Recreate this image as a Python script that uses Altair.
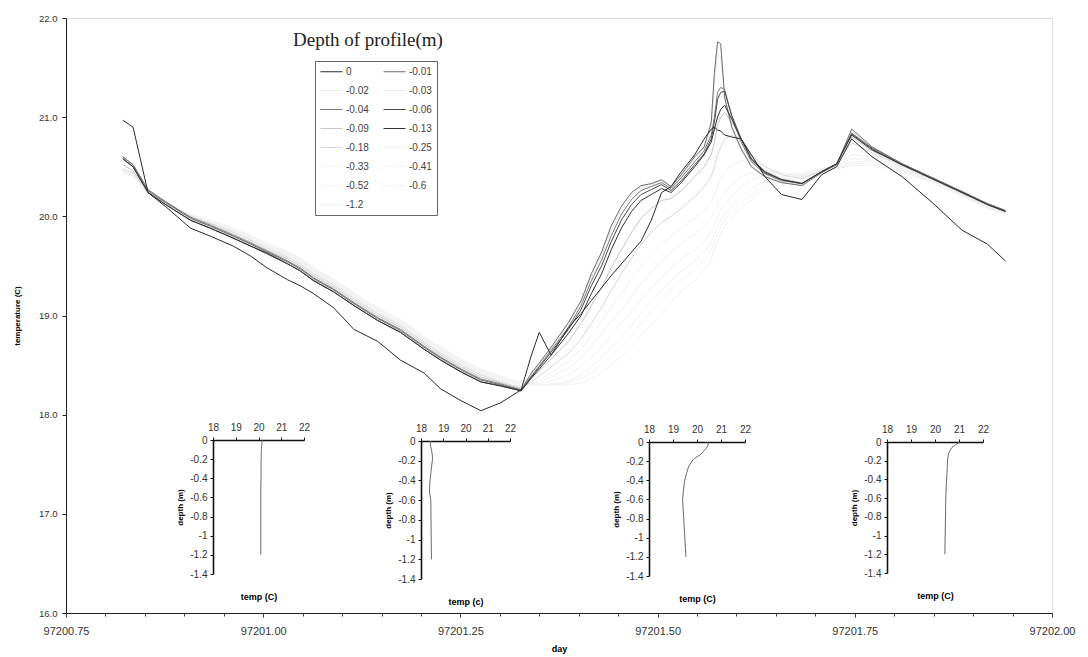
import altair as alt
import pandas as pd

# ---------------------------------------------------------------------------
# Time axis (decimal day) shared by all depth series
# ---------------------------------------------------------------------------
days = [97200.822, 97200.835, 97200.854, 97200.876, 97200.908, 97200.933, 97200.962,
        97200.984, 97201.005, 97201.031, 97201.047, 97201.064, 97201.089, 97201.115,
        97201.145, 97201.174, 97201.204, 97201.225, 97201.251, 97201.276, 97201.301,
        97201.327, 97201.340, 97201.350, 97201.365, 97201.387, 97201.403, 97201.416,
        97201.429, 97201.441, 97201.454, 97201.467, 97201.479, 97201.492, 97201.505,
        97201.517, 97201.530, 97201.547, 97201.559, 97201.568, 97201.572, 97201.576,
        97201.580, 97201.585, 97201.594, 97201.606, 97201.619, 97201.636, 97201.657,
        97201.683, 97201.708, 97201.727, 97201.746, 97201.772, 97201.810, 97201.848,
        97201.886, 97201.918, 97201.941]

# Temperature (C) at each depth of the profile
t_0 = [20.97, 20.90, 20.24, 20.10, 19.88, 19.80, 19.70, 19.60, 19.48, 19.36, 19.30,
       19.22, 19.08, 18.86, 18.74, 18.55, 18.42, 18.26, 18.14, 18.04, 18.12, 18.25,
       18.60, 18.83, 18.60, 18.88, 19.02, 19.15, 19.28, 19.40, 19.52, 19.64, 19.75,
       19.96, 20.24, 20.30, 20.45, 20.62, 20.78, 20.88, 20.90, 20.87, 20.86, 20.82,
       20.80, 20.78, 20.62, 20.40, 20.22, 20.17, 20.42, 20.50, 20.78, 20.60, 20.40,
       20.14, 19.86, 19.72, 19.55]
t_001 = [20.60, 20.52, 20.26, 20.14, 19.98, 19.90, 19.80, 19.72, 19.64, 19.54, 19.47,
         19.37, 19.26, 19.12, 18.97, 18.85, 18.68, 18.57, 18.45, 18.35, 18.30, 18.25,
         18.42, 18.52, 18.68, 18.93, 19.15, 19.42, 19.64, 19.90, 20.10, 20.24, 20.31,
         20.33, 20.37, 20.30, 20.42, 20.60, 20.70, 20.95, 21.45, 21.76, 21.74, 21.20,
         20.90, 20.68, 20.50, 20.40, 20.34, 20.31, 20.44, 20.52, 20.88, 20.70, 20.53,
         20.39, 20.25, 20.13, 20.06]
t_002 = [20.59, 20.51, 20.25, 20.13, 19.97, 19.89, 19.79, 19.71, 19.63, 19.53, 19.46,
         19.36, 19.25, 19.11, 18.96, 18.84, 18.67, 18.56, 18.44, 18.34, 18.30, 18.25,
         18.41, 18.51, 18.67, 18.92, 19.14, 19.40, 19.62, 19.88, 20.08, 20.22, 20.30,
         20.32, 20.36, 20.29, 20.41, 20.58, 20.69, 20.92, 21.40, 21.72, 21.70, 21.18,
         20.88, 20.66, 20.49, 20.39, 20.34, 20.31, 20.44, 20.52, 20.86, 20.69, 20.53,
         20.39, 20.25, 20.13, 20.06]
t_003 = [20.58, 20.50, 20.25, 20.13, 19.97, 19.89, 19.79, 19.71, 19.63, 19.53, 19.46,
         19.36, 19.25, 19.11, 18.96, 18.84, 18.67, 18.56, 18.44, 18.34, 18.29, 18.25,
         18.40, 18.50, 18.66, 18.90, 19.12, 19.38, 19.60, 19.85, 20.06, 20.20, 20.28,
         20.31, 20.35, 20.28, 20.40, 20.57, 20.68, 20.88, 21.30, 21.65, 21.60, 21.25,
         20.92, 20.70, 20.52, 20.41, 20.35, 20.32, 20.45, 20.52, 20.85, 20.69, 20.53,
         20.39, 20.25, 20.13, 20.06]
t_004 = [20.60, 20.52, 20.27, 20.15, 19.99, 19.91, 19.81, 19.73, 19.65, 19.55, 19.48,
         19.38, 19.27, 19.13, 18.98, 18.86, 18.69, 18.58, 18.46, 18.36, 18.31, 18.25,
         18.39, 18.49, 18.65, 18.88, 19.10, 19.35, 19.56, 19.80, 20.02, 20.17, 20.26,
         20.30, 20.34, 20.28, 20.39, 20.55, 20.66, 20.82, 21.00, 21.25, 21.30, 21.28,
         21.00, 20.75, 20.55, 20.43, 20.36, 20.33, 20.45, 20.53, 20.84, 20.69, 20.53,
         20.39, 20.25, 20.12, 20.05]
t_006 = [20.58, 20.50, 20.24, 20.12, 19.96, 19.88, 19.78, 19.70, 19.62, 19.52, 19.45,
         19.35, 19.24, 19.10, 18.95, 18.83, 18.66, 18.55, 18.43, 18.33, 18.29, 18.24,
         18.38, 18.48, 18.63, 18.86, 19.06, 19.30, 19.50, 19.74, 19.96, 20.12, 20.22,
         20.27, 20.32, 20.26, 20.36, 20.52, 20.63, 20.78, 20.95, 21.18, 21.25, 21.26,
         21.02, 20.78, 20.57, 20.44, 20.37, 20.33, 20.45, 20.53, 20.83, 20.68, 20.52,
         20.38, 20.24, 20.12, 20.05]
t_009 = [20.52, 20.46, 20.25, 20.14, 19.99, 19.92, 19.82, 19.74, 19.66, 19.57, 19.50,
         19.40, 19.29, 19.15, 19.00, 18.88, 18.71, 18.60, 18.48, 18.38, 18.32, 18.26,
         18.36, 18.44, 18.56, 18.74, 18.92, 19.10, 19.28, 19.48, 19.66, 19.84, 19.98,
         20.08, 20.16, 20.18, 20.26, 20.40, 20.50, 20.62, 20.75, 20.92, 21.00, 21.05,
         20.95, 20.78, 20.60, 20.46, 20.38, 20.34, 20.45, 20.53, 20.80, 20.66, 20.52,
         20.38, 20.24, 20.12, 20.05]
t_013 = [20.58, 20.50, 20.24, 20.12, 19.96, 19.88, 19.78, 19.70, 19.63, 19.52, 19.45,
         19.35, 19.24, 19.10, 18.95, 18.83, 18.66, 18.55, 18.43, 18.33, 18.29, 18.24,
         18.37, 18.46, 18.60, 18.82, 19.00, 19.22, 19.42, 19.66, 19.88, 20.05, 20.16,
         20.22, 20.28, 20.24, 20.34, 20.50, 20.62, 20.75, 20.88, 21.00, 21.08, 21.12,
         20.98, 20.78, 20.58, 20.45, 20.37, 20.33, 20.45, 20.53, 20.82, 20.67, 20.52,
         20.38, 20.24, 20.12, 20.05]
t_018 = [20.48, 20.44, 20.24, 20.14, 20.00, 19.93, 19.84, 19.76, 19.68, 19.59, 19.52,
         19.42, 19.31, 19.17, 19.02, 18.90, 18.73, 18.62, 18.50, 18.40, 18.33, 18.27,
         18.33, 18.39, 18.48, 18.62, 18.76, 18.92, 19.08, 19.25, 19.42, 19.58, 19.72,
         19.84, 19.94, 20.00, 20.08, 20.20, 20.30, 20.40, 20.50, 20.62, 20.70, 20.78,
         20.82, 20.75, 20.62, 20.50, 20.42, 20.38, 20.46, 20.53, 20.74, 20.64, 20.51,
         20.37, 20.23, 20.11, 20.04]
t_025 = [20.47, 20.43, 20.24, 20.14, 20.00, 19.94, 19.85, 19.77, 19.69, 19.60, 19.53,
         19.43, 19.32, 19.18, 19.03, 18.91, 18.74, 18.63, 18.51, 18.41, 18.34, 18.28,
         18.31, 18.35, 18.42, 18.54, 18.66, 18.80, 18.94, 19.08, 19.22, 19.36, 19.50,
         19.62, 19.72, 19.80, 19.88, 19.98, 20.06, 20.14, 20.22, 20.30, 20.38, 20.44,
         20.52, 20.56, 20.55, 20.50, 20.44, 20.40, 20.47, 20.52, 20.68, 20.62, 20.50,
         20.37, 20.23, 20.11, 20.04]
t_033 = [20.46, 20.42, 20.23, 20.14, 20.01, 19.95, 19.86, 19.78, 19.70, 19.61, 19.54,
         19.44, 19.33, 19.19, 19.04, 18.92, 18.75, 18.64, 18.52, 18.42, 18.35, 18.29,
         18.30, 18.33, 18.38, 18.47, 18.57, 18.69, 18.81, 18.94, 19.06, 19.19, 19.32,
         19.44, 19.55, 19.64, 19.72, 19.82, 19.90, 19.98, 20.05, 20.12, 20.18, 20.24,
         20.32, 20.40, 20.44, 20.46, 20.44, 20.42, 20.48, 20.52, 20.62, 20.60, 20.49,
         20.36, 20.22, 20.10, 20.03]
t_041 = [20.46, 20.42, 20.23, 20.14, 20.01, 19.95, 19.86, 19.78, 19.70, 19.62, 19.55,
         19.45, 19.34, 19.20, 19.05, 18.93, 18.76, 18.65, 18.53, 18.43, 18.36, 18.30,
         18.30, 18.31, 18.34, 18.40, 18.48, 18.58, 18.68, 18.80, 18.92, 19.04, 19.16,
         19.28, 19.38, 19.48, 19.57, 19.66, 19.75, 19.84, 19.92, 20.00, 20.06, 20.12,
         20.20, 20.30, 20.36, 20.42, 20.43, 20.43, 20.48, 20.51, 20.58, 20.58, 20.48,
         20.35, 20.22, 20.10, 20.03]
t_052 = [20.45, 20.41, 20.23, 20.14, 20.01, 19.95, 19.87, 19.79, 19.71, 19.63, 19.56,
         19.46, 19.35, 19.21, 19.06, 18.94, 18.77, 18.66, 18.54, 18.44, 18.37, 18.31,
         18.30, 18.30, 18.31, 18.34, 18.40, 18.48, 18.57, 18.67, 18.78, 18.90, 19.02,
         19.14, 19.25, 19.35, 19.45, 19.55, 19.64, 19.74, 19.82, 19.90, 19.96, 20.02,
         20.10, 20.20, 20.28, 20.36, 20.40, 20.42, 20.47, 20.50, 20.55, 20.56, 20.47,
         20.35, 20.21, 20.09, 20.02]
t_06 = [20.45, 20.41, 20.23, 20.14, 20.02, 19.96, 19.88, 19.80, 19.72, 19.64, 19.57,
        19.47, 19.36, 19.22, 19.07, 18.95, 18.78, 18.67, 18.55, 18.45, 18.38, 18.32,
        18.30, 18.30, 18.30, 18.32, 18.36, 18.42, 18.50, 18.59, 18.69, 18.80, 18.92,
        19.04, 19.15, 19.26, 19.36, 19.46, 19.56, 19.66, 19.75, 19.83, 19.90, 19.96,
        20.04, 20.14, 20.22, 20.32, 20.38, 20.41, 20.46, 20.49, 20.53, 20.54, 20.46,
        20.34, 20.21, 20.09, 20.02]
t_12 = [20.44, 20.40, 20.22, 20.14, 20.02, 19.96, 19.88, 19.81, 19.73, 19.65, 19.58,
        19.48, 19.37, 19.23, 19.08, 18.96, 18.79, 18.68, 18.56, 18.46, 18.39, 18.33,
        18.31, 18.30, 18.30, 18.30, 18.32, 18.36, 18.42, 18.50, 18.59, 18.69, 18.80,
        18.91, 19.02, 19.13, 19.24, 19.35, 19.46, 19.57, 19.66, 19.75, 19.83, 19.90,
        19.98, 20.08, 20.17, 20.28, 20.35, 20.40, 20.45, 20.48, 20.51, 20.52, 20.45,
        20.34, 20.20, 20.08, 20.01]

depth_labels = ["0", "-0.01", "-0.02", "-0.03", "-0.04", "-0.06", "-0.09", "-0.13",
                "-0.18", "-0.25", "-0.33", "-0.41", "-0.52", "-0.6", "-1.2"]
series = [t_0, t_001, t_002, t_003, t_004, t_006, t_009, t_013,
          t_018, t_025, t_033, t_041, t_052, t_06, t_12]
line_colors = ["#2a2a2a", "#6e6e6e", "#ebebeb", "#ebebeb", "#7a7a7a", "#4a4a4a",
               "#c6c6c6", "#333333", "#d8d8d8", "#f2f2f2", "#f2f2f2", "#f2f2f2",
               "#f2f2f2", "#f2f2f2", "#f2f2f2"]

# Faint (deep) traces go underneath, the darker shallow ones on top
draw_order = ["-1.2", "-0.6", "-0.52", "-0.41", "-0.33", "-0.25", "-0.03", "-0.02",
              "-0.18", "-0.09", "-0.04", "-0.01", "-0.06", "-0.13", "0"]

# Vertical temperature profiles shown in the four small panels
profile_depths = [0, -0.01, -0.02, -0.03, -0.04, -0.06, -0.09, -0.13, -0.18,
                  -0.25, -0.33, -0.41, -0.52, -0.6, -1.2]
profile_1 = [20.18, 20.17, 20.16, 20.15, 20.15, 20.14, 20.13, 20.12, 20.12,
             20.11, 20.11, 20.11, 20.10, 20.10, 20.10]
profile_2 = [18.44, 18.43, 18.43, 18.42, 18.42, 18.44, 18.47, 18.50, 18.52,
             18.48, 18.44, 18.40, 18.38, 18.44, 18.47]
profile_3 = [20.41, 20.44, 20.46, 20.46, 20.45, 20.40, 20.30, 20.15, 19.85,
             19.66, 19.56, 19.48, 19.43, 19.40, 19.54]
profile_4 = [21.03, 20.98, 20.92, 20.85, 20.80, 20.70, 20.62, 20.56, 20.53,
             20.51, 20.50, 20.48, 20.46, 20.45, 20.41]

x_ticks = [97200.75, 97201.00, 97201.25, 97201.50, 97201.75, 97202.00]
x_minor = [97200.75 + 0.05 * i for i in range(26)]
y_ticks = [16, 17, 18, 19, 20, 21, 22]
profile_temp_ticks = [18, 19, 20, 21, 22]
profile_depth_ticks = [0, -0.2, -0.4, -0.6, -0.8, -1, -1.2, -1.4]

for s in series:
    assert len(s) == len(days)

rows = []
for lab in draw_order:
    temps = series[depth_labels.index(lab)]
    for d, t in zip(days, temps):
        rows.append({"day": d, "temp": t, "depth": lab})
main_df = pd.DataFrame(rows)

W, H = 986, 595
SANS = "Liberation Sans"
X_DOMAIN = [97200.75, 97202.0]
Y_DOMAIN = [16, 22]

legend = alt.Legend(
    title=None, orient="none", legendX=249, legendY=43, columns=2,
    direction="horizontal",
    symbolType="M-1,0H3.4", symbolSize=100, symbolStrokeWidth=1,
    labelOffset=15, labelFont=SANS, labelFontSize=10, labelColor="#444",
    rowPadding=8, columnPadding=12, padding=5,
    strokeColor="#666", fillColor="white", labelLimit=60,
)

main = alt.Chart(main_df).mark_line(strokeWidth=1).encode(
    x=alt.X("day:Q", scale=alt.Scale(domain=X_DOMAIN, nice=False, zero=False),
            axis=alt.Axis(values=x_ticks, format=".2f", title="day", orient="bottom",
                          labelFont=SANS, labelFontSize=11, labelColor="#333",
                          labelFlush=False, tickSize=4, tickColor="#222",
                          domainColor="#222", labelPadding=8, titleFont=SANS,
                          titleFontSize=9, titleFontWeight="bold", titlePadding=8,
                          grid=False)),
    y=alt.Y("temp:Q", scale=alt.Scale(domain=Y_DOMAIN, nice=False, zero=False),
            axis=alt.Axis(values=y_ticks, format=".1f", title="temperature (C)",
                          orient="left", labelFont=SANS, labelFontSize=9.5,
                          labelColor="#333", labelFlush=False, tickSize=4,
                          tickColor="#222", domainColor="#222", labelPadding=5,
                          titleFont=SANS, titleFontSize=8, titleFontWeight="bold",
                          titlePadding=17, grid=False)),
    color=alt.Color("depth:N", scale=alt.Scale(domain=depth_labels, range=line_colors),
                    legend=legend),
    detail="depth:N",
)

# Minor ticks along the day axis
minor = alt.Chart(main_df).mark_point(opacity=0).encode(
    x=alt.X("day:Q", scale=alt.Scale(domain=X_DOMAIN, nice=False, zero=False),
            axis=alt.Axis(values=x_minor, orient="bottom", labels=False, domain=False,
                          tickSize=3, tickColor="#444", title=None, grid=False)),
    y=alt.Y("temp:Q", scale=alt.Scale(domain=Y_DOMAIN, nice=False, zero=False), axis=None),
)


def profile_panel(temps, xr, yr, xtitle):
    df = pd.DataFrame({"temp": temps, "depth": profile_depths,
                       "k": list(range(len(temps)))})
    return alt.Chart(df).mark_line(color="#6a6a6a", strokeWidth=1).encode(
        x=alt.X("temp:Q", scale=alt.Scale(domain=[18, 22], range=xr, nice=False, zero=False),
                axis=alt.Axis(orient="top", offset=-yr[1], values=profile_temp_ticks,
                              title=xtitle, titleY=yr[0] - yr[1] + 22,
                              titleBaseline="middle", titleFont=SANS, titleFontSize=9,
                              titleFontWeight="bold", labelFont=SANS, labelFontSize=10,
                              labelColor="#333", labelFlush=False, tickSize=3,
                              tickColor="#111", domainColor="#111", domainWidth=1.6,
                              labelPadding=5, grid=False)),
        y=alt.Y("depth:Q", scale=alt.Scale(domain=[-1.4, 0], range=yr, nice=False, zero=False),
                axis=alt.Axis(orient="left", offset=-xr[0], values=profile_depth_ticks,
                              labelExpr="'' + datum.value", title="depth (m)",
                              titleFont=SANS, titleFontSize=8, titleFontWeight="bold",
                              titlePadding=5, labelFont=SANS, labelFontSize=10,
                              labelColor="#333", labelFlush=False, tickSize=3,
                              tickColor="#111", domainColor="#111", domainWidth=1.6,
                              labelPadding=3, grid=False)),
        order="k:Q",
    )


panels = [
    profile_panel(profile_1, [147, 238], [556, 422], "temp (C)"),
    profile_panel(profile_2, [355, 444], [561, 423], "temp (c)"),
    profile_panel(profile_3, [583, 679], [558, 424], "temp (C)"),
    profile_panel(profile_4, [821, 917], [555, 424], "temp (C)"),
]

chart = alt.layer(main, minor, *panels).resolve_scale(
    x="independent", y="independent"
).properties(
    width=W, height=H,
    autosize=alt.AutoSizeParams(type="none"),
    padding={"left": 66, "top": 18, "right": 36, "bottom": 44},
    title=alt.Title("Depth of profile(m)", font="Liberation Serif", fontSize=19,
                    fontWeight="normal", color="#222", anchor="start", frame="group",
                    orient="top", offset=0, dx=227, dy=52, baseline="alphabetic"),
).configure_view(stroke="#222", strokeWidth=1).configure(background="white")

chart.save("out.html", embed_options={"renderer": "svg", "actions": False})
